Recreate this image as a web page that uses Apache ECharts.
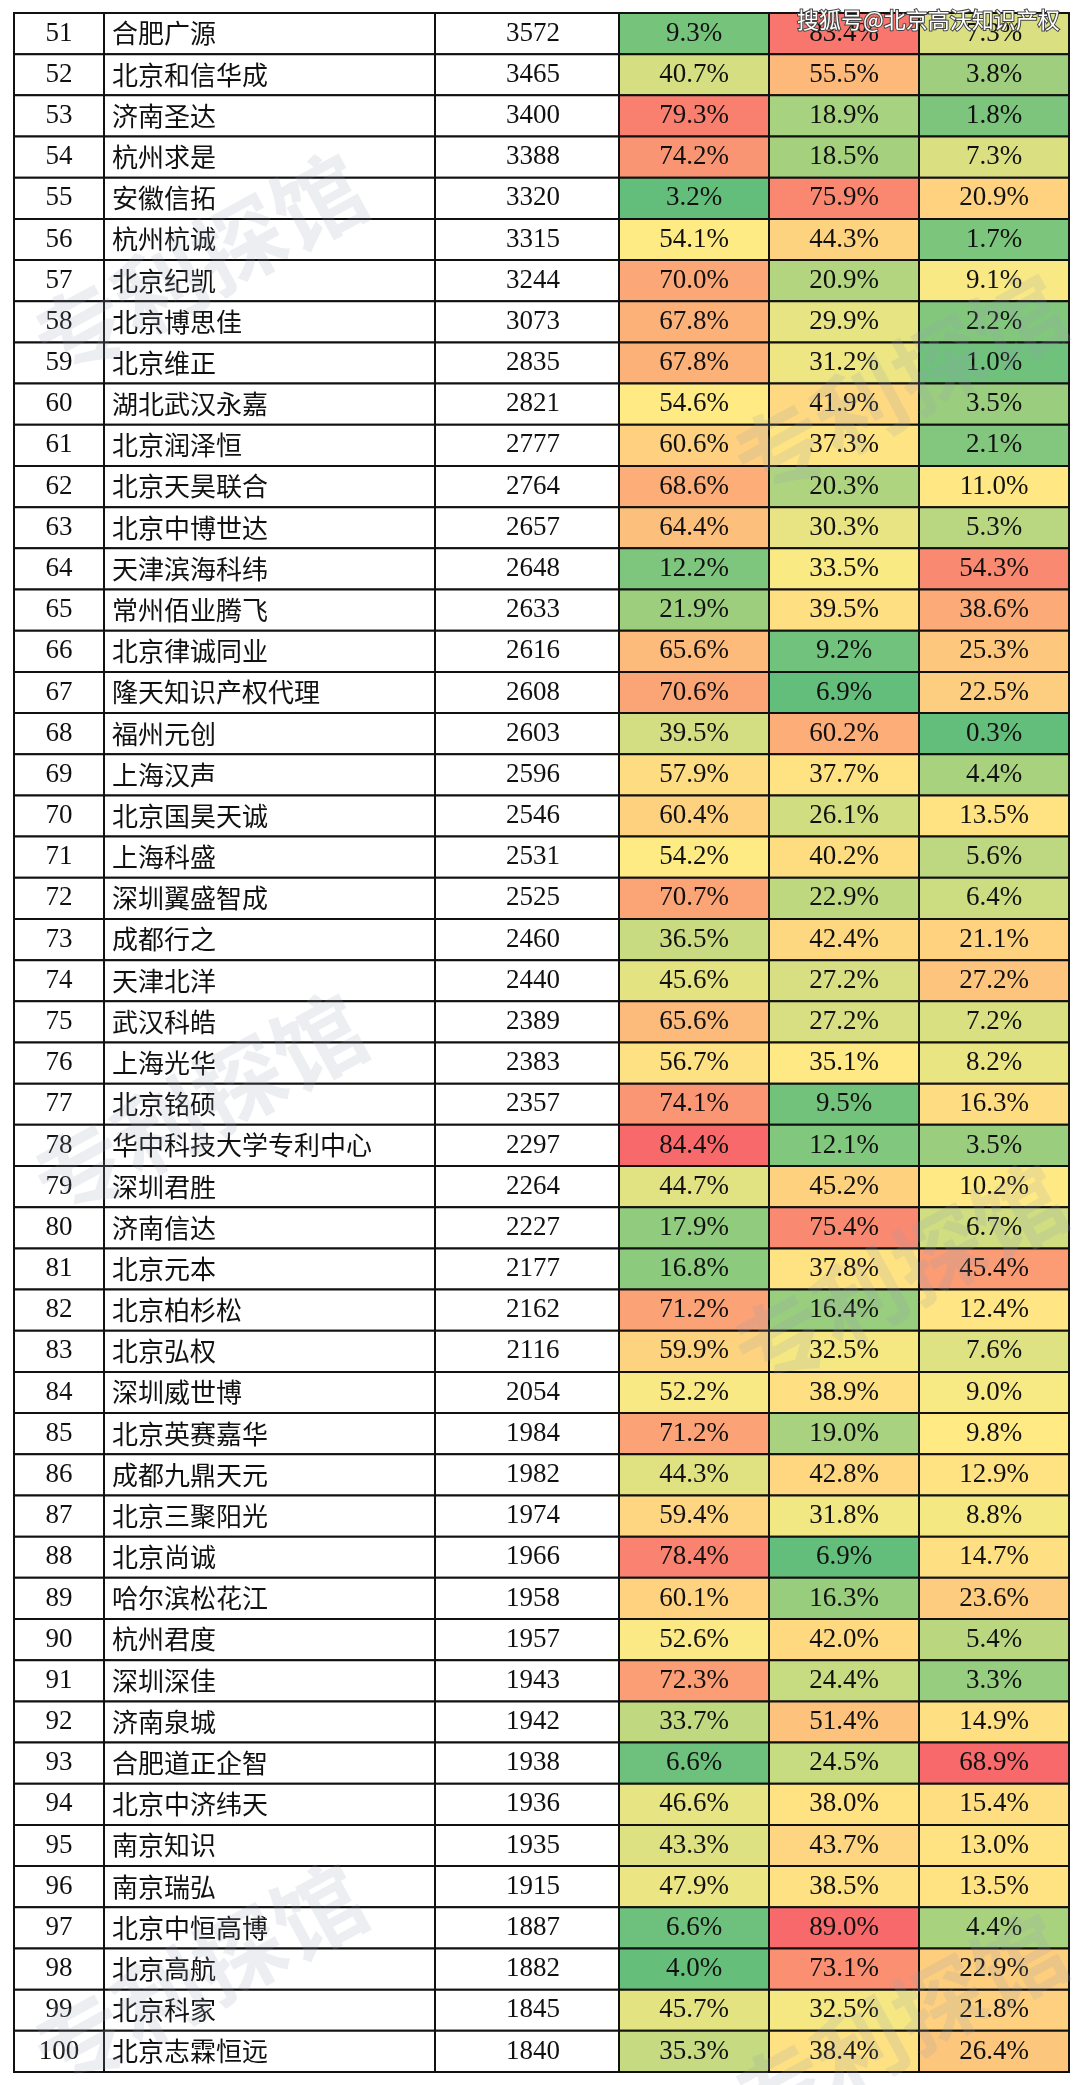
<!DOCTYPE html>
<html><head><meta charset="utf-8">
<script src="https://cdn.jsdelivr.net/npm/echarts@6/dist/echarts.min.js"></script>
<style>html,body{margin:0;padding:0;background:#fff}#main{width:1080px;height:2085px}</style>
</head><body><div id="main"></div>
<script>
var ranks = [51,52,53,54,55,56,57,58,59,60,61,62,63,64,65,66,67,68,69,70,71,72,73,74,75,76,77,78,79,80,81,82,83,84,85,86,87,88,89,90,91,92,93,94,95,96,97,98,99,100];
var names = ['合肥广源','北京和信华成','济南圣达','杭州求是','安徽信拓','杭州杭诚','北京纪凯','北京博思佳','北京维正','湖北武汉永嘉',
  '北京润泽恒','北京天昊联合','北京中博世达','天津滨海科纬','常州佰业腾飞','北京律诚同业','隆天知识产权代理','福州元创','上海汉声','北京国昊天诚',
  '上海科盛','深圳翼盛智成','成都行之','天津北洋','武汉科皓','上海光华','北京铭硕','华中科技大学专利中心','深圳君胜','济南信达',
  '北京元本','北京柏杉松','北京弘权','深圳威世博','北京英赛嘉华','成都九鼎天元','北京三聚阳光','北京尚诚','哈尔滨松花江','杭州君度',
  '深圳深佳','济南泉城','合肥道正企智','北京中济纬天','南京知识','南京瑞弘','北京中恒高博','北京高航','北京科家','北京志霖恒远'];
var counts = [3572,3465,3400,3388,3320,3315,3244,3073,2835,2821,2777,2764,2657,2648,2633,2616,2608,2603,2596,2546,
  2531,2525,2460,2440,2389,2383,2357,2297,2264,2227,2177,2162,2116,2054,1984,1982,1974,1966,1958,1957,
  1943,1942,1938,1936,1935,1915,1887,1882,1845,1840];
var pctA = [9.3,40.7,79.3,74.2,3.2,54.1,70.0,67.8,67.8,54.6,60.6,68.6,64.4,12.2,21.9,65.6,70.6,39.5,57.9,60.4,
  54.2,70.7,36.5,45.6,65.6,56.7,74.1,84.4,44.7,17.9,16.8,71.2,59.9,52.2,71.2,44.3,59.4,78.4,60.1,52.6,
  72.3,33.7,6.6,46.6,43.3,47.9,6.6,4.0,45.7,35.3];
var pctB = [83.4,55.5,18.9,18.5,75.9,44.3,20.9,29.9,31.2,41.9,37.3,20.3,30.3,33.5,39.5,9.2,6.9,60.2,37.7,26.1,
  40.2,22.9,42.4,27.2,27.2,35.1,9.5,12.1,45.2,75.4,37.8,16.4,32.5,38.9,19.0,42.8,31.8,6.9,16.3,42.0,
  24.4,51.4,24.5,38.0,43.7,38.5,89.0,73.1,32.5,38.4];
var pctC = [7.3,3.8,1.8,7.3,20.9,1.7,9.1,2.2,1.0,3.5,2.1,11.0,5.3,54.3,38.6,25.3,22.5,0.3,4.4,13.5,
  5.6,6.4,21.1,27.2,7.2,8.2,16.3,3.5,10.2,6.7,45.4,12.4,7.6,9.0,9.8,12.9,8.8,14.7,23.6,5.4,
  3.3,14.9,68.9,15.4,13.0,13.5,4.4,22.9,21.8,26.4];

var colEdges = [14,104,435,619,769,919,1069];
var GREEN=[99,190,123], YEL=[255,235,132], RED=[248,105,107];

function stats(a){var s=a.slice().sort(function(x,y){return x-y});var n=s.length;
  return {min:s[0],max:s[n-1],med:(s[n/2-1]+s[n/2])/2};}
function mix(c1,c2,t){return 'rgb('+c1.map(function(v,i){return Math.round(v+(c2[i]-v)*t)}).join(',')+')';}
function scaleColor(v,st){
  if(v<=st.med) return mix(GREEN,YEL,(v-st.min)/(st.med-st.min));
  return mix(YEL,RED,(v-st.med)/(st.max-st.med));
}
var pcts=[pctA,pctB,pctC], sts=pcts.map(stats);

var data = ranks.map(function(r,i){return [i];});
var numFont = '"Liberation Serif","Noto Sans CJK SC",serif';
var cjkFont = '"Noto Sans CJK SC",serif';
var wm = {fill:'rgba(150,160,180,0.18)',font:'bold 90px "Noto Sans CJK SC"',text:'专利探馆'};

var chart = echarts.init(document.getElementById('main'));
chart.setOption({
  animation:false,
  grid:{left:14,right:11,top:13,bottom:13},
  xAxis:{type:'value',min:14,max:1069,show:false},
  yAxis:{type:'category',data:ranks,inverse:true,show:false},
  graphic:[
    {type:'text',left:796,top:8,z:100,style:{text:'搜狐号@北京高沃知识产权',fill:'#fff',font:'22px "Noto Sans CJK SC"',stroke:'#444',lineWidth:2}},
    {type:'text',left:20,top:140,rotation:0.5,z:50,style:wm},
    {type:'text',left:720,top:260,rotation:0.5,z:50,style:wm},
    {type:'text',left:20,top:980,rotation:0.5,z:50,style:wm},
    {type:'text',left:720,top:1150,rotation:0.5,z:50,style:wm},
    {type:'text',left:20,top:1850,rotation:0.5,z:50,style:wm},
    {type:'text',left:720,top:1900,rotation:0.5,z:50,style:wm}
  ],
  series:[{
    type:'custom',
    data:data,
    renderItem:function(params,api){
      var i=api.value(0);
      var c=api.coord([colEdges[0],i]);
      var h=api.size([0,1])[1];
      var y0=c[1]-h/2;
      var x=colEdges.map(function(e){return api.coord([e,i])[0];});
      var kids=[];
      for(var k=0;k<6;k++){
        var fill='#fff';
        if(k>=3) fill=scaleColor(pcts[k-3][i],sts[k-3]);
        kids.push({type:'rect',shape:{x:x[k],y:y0,width:x[k+1]-x[k],height:h},
          style:{fill:fill,stroke:'#111',lineWidth:2}});
      }
      var ty=y0+h/2;
      kids.push({type:'text',style:{text:String(ranks[i]),x:(x[0]+x[1])/2,y:ty,align:'center',verticalAlign:'middle',font:'27px '+numFont,fill:'#111'}});
      kids.push({type:'text',style:{text:names[i],x:x[1]+8,y:ty,align:'left',verticalAlign:'middle',font:'26px '+cjkFont,fill:'#111'}});
      kids.push({type:'text',style:{text:String(counts[i]),x:(x[2]+x[3])/2+6,y:ty,align:'center',verticalAlign:'middle',font:'27px '+numFont,fill:'#111'}});
      for(var j=0;j<3;j++){
        kids.push({type:'text',style:{text:pcts[j][i].toFixed(1)+'%',x:(x[3+j]+x[4+j])/2,y:ty,align:'center',verticalAlign:'middle',font:'27px '+numFont,fill:'#111'}});
      }
      return {type:'group',children:kids};
    }
  }]
});
</script></body></html>
